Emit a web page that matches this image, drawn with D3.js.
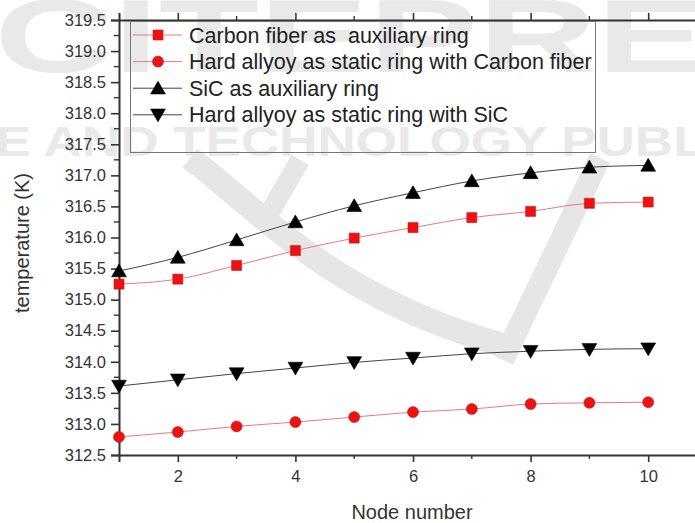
<!DOCTYPE html>
<html>
<head>
<meta charset="utf-8">
<script src="https://cdn.jsdelivr.net/npm/d3@7/dist/d3.min.js"></script>
<style>
  html, body { margin: 0; padding: 0; background: #fff; }
  svg { display: block; font-family: "Liberation Sans", Arial, sans-serif; }
</style>
</head>
<body>
<svg id="chart" width="695" height="523"></svg>
<script>
// Node positions along the ring
const nodes = [1, 2, 3, 4, 5, 6, 7, 8, 9, 10];

// Temperatures (K) at each node
const carbonAux      = [315.25, 315.33, 315.55, 315.79, 315.99, 316.16, 316.32, 316.42, 316.55, 316.57];
const hardWithCarbon = [312.79, 312.87, 312.96, 313.03, 313.11, 313.19, 313.24, 313.32, 313.34, 313.35];
const sicAux         = [315.46, 315.68, 315.96, 316.25, 316.51, 316.72, 316.91, 317.04, 317.13, 317.16];
const hardWithSic    = [313.61, 313.71, 313.81, 313.90, 313.99, 314.06, 314.13, 314.17, 314.20, 314.21];

const seriesNames = [
  "Carbon fiber as  auxiliary ring",
  "Hard allyoy as static ring with Carbon fiber",
  "SiC as auxiliary ring",
  "Hard allyoy as static ring with SiC"
];

const yTicks = [312.5, 313.0, 313.5, 314.0, 314.5, 315.0, 315.5, 316.0, 316.5, 317.0, 317.5, 318.0, 318.5, 319.0, 319.5];
const xTicks = [2, 4, 6, 8, 10];

const xTitle = "Node number";
const yTitle = "temperature (K)";

const watermarkTop = "SCITEPRESS";
const watermarkRow = "SCIENCE AND TECHNOLOGY PUBLICATIONS";

const svg = d3.select("#chart");
const plotLeft = 119, plotTop = 20, plotBottom = 455, plotRightEnd = 707;

const x = d3.scaleLinear().domain([1, 11]).range([plotLeft, plotRightEnd]);
const y = d3.scaleLinear().domain([312.5, 319.5]).range([plotBottom, plotTop]);

const axisColor = "#333";
const textColor = "#333";

// ---- faint publisher watermark behind everything ----
const wm = svg.append("g").attr("class", "watermark").attr("fill", "#e9e9e9");
wm.append("text")
  .attr("x", -115).attr("y", 72)
  .attr("font-size", 104).attr("font-weight", "bold")
  .attr("textLength", 1040).attr("lengthAdjust", "spacingAndGlyphs")
  .text(watermarkTop);
wm.append("text")
  .attr("x", -205).attr("y", 156)
  .attr("font-size", 42).attr("font-weight", "bold")
  .attr("textLength", 1160).attr("lengthAdjust", "spacingAndGlyphs")
  .text(watermarkRow);
const swoosh = wm.append("g").attr("fill", "none").attr("stroke", "#e6e6e6").attr("stroke-linecap", "butt");
swoosh.append("path").attr("d", "M190,158 C265,215 335,300 510,347").attr("stroke-width", 24);
swoosh.append("path").attr("d", "M300,160 L262,226").attr("stroke-width", 20);
swoosh.append("path").attr("d", "M600,158 L503,360").attr("stroke-width", 22);

// ---- axes ----
const yAxisMajor = d3.axisLeft(y).tickValues(yTicks).tickSize(8).tickPadding(5)
  .tickFormat(d3.format(".1f"));
const yMinor = d3.range(312.75, 319.5, 0.5);

const gy = svg.append("g").attr("transform", `translate(${plotLeft},0)`).call(yAxisMajor);
gy.select(".domain").attr("stroke", axisColor).attr("stroke-width", 2);
gy.selectAll(".tick line").attr("stroke", axisColor).attr("stroke-width", 1.6);
gy.selectAll(".tick text").attr("fill", textColor).attr("font-size", 16.5)
  .attr("font-family", "Liberation Sans, Arial, sans-serif");
svg.append("g").selectAll("line").data(yMinor).join("line")
  .attr("x1", plotLeft - 5).attr("x2", plotLeft)
  .attr("y1", d => y(d)).attr("y2", d => y(d))
  .attr("stroke", axisColor).attr("stroke-width", 1.4);

const xAxisMajor = d3.axisBottom(x).tickValues(xTicks).tickSize(7).tickPadding(8)
  .tickFormat(d3.format("d"));
const gx = svg.append("g").attr("transform", `translate(0,${plotBottom})`).call(xAxisMajor);
gx.select(".domain").attr("stroke", axisColor).attr("stroke-width", 2);
gx.selectAll(".tick line").attr("stroke", axisColor).attr("stroke-width", 1.6);
gx.selectAll(".tick text").attr("fill", textColor).attr("font-size", 16.5)
  .attr("font-family", "Liberation Sans, Arial, sans-serif");
const xMinor = [3, 5, 7, 9];
svg.append("g").selectAll("line").data(xMinor).join("line")
  .attr("x1", d => x(d)).attr("x2", d => x(d))
  .attr("y1", plotBottom).attr("y2", plotBottom + 4)
  .attr("stroke", axisColor).attr("stroke-width", 1.4);

// top frame with outward ticks
const xTopAxis = d3.axisTop(x).tickValues(xTicks).tickSize(7).tickFormat("");
const gt = svg.append("g").attr("transform", `translate(0,${plotTop})`).call(xTopAxis);
gt.select(".domain").attr("stroke", axisColor).attr("stroke-width", 2);
gt.selectAll(".tick line").attr("stroke", axisColor).attr("stroke-width", 1.6);
svg.append("g").selectAll("line").data(xMinor).join("line")
  .attr("x1", d => x(d)).attr("x2", d => x(d))
  .attr("y1", plotTop).attr("y2", plotTop - 4)
  .attr("stroke", axisColor).attr("stroke-width", 1.4);

// axis titles
svg.append("text")
  .attr("x", 412).attr("y", 519)
  .attr("text-anchor", "middle")
  .attr("font-size", 20).attr("fill", textColor)
  .text(xTitle);
svg.append("text")
  .attr("transform", `translate(29,243) rotate(-90)`)
  .attr("text-anchor", "middle")
  .attr("font-size", 20).attr("fill", textColor)
  .text(yTitle);

// ---- series ----
const redLine = "#ec7a7a", blackLine = "#444";
const red = "#ee1111", black = "#000";

const series = [
  { name: seriesNames[0], values: carbonAux,      line: redLine,   color: red,   shape: "square" },
  { name: seriesNames[1], values: hardWithCarbon, line: redLine,   color: red,   shape: "circle" },
  { name: seriesNames[2], values: sicAux,         line: blackLine, color: black, shape: "up" },
  { name: seriesNames[3], values: hardWithSic,    line: blackLine, color: black, shape: "down" }
];

const line = d3.line()
  .x((d, i) => x(nodes[i]))
  .y(d => y(d))
  .curve(d3.curveMonotoneX);

function markerPath(shape) {
  if (shape === "square") return d3.symbol(d3.symbolSquare, 100)();
  if (shape === "circle") return d3.symbol(d3.symbolCircle, 95)();
  return d3.symbol(d3.symbolTriangle, 95)();
}

function drawMarker(g, shape, color, cx, cy) {
  const p = g.append("path")
    .attr("d", markerPath(shape))
    .attr("fill", color)
    .attr("stroke", shape === "square" || shape === "circle" ? "#d01010" : "#000")
    .attr("stroke-width", 0.6);
  const rot = shape === "down" ? " rotate(180)" : "";
  const dy = shape === "up" ? 1.5 : (shape === "down" ? -1.5 : 0);
  p.attr("transform", `translate(${cx},${cy + dy})${rot}`);
}

const plot = svg.append("g");
series.forEach(s => {
  plot.append("path")
    .datum(s.values)
    .attr("d", line)
    .attr("fill", "none")
    .attr("stroke", s.line)
    .attr("stroke-width", 1);
  const mg = plot.append("g");
  s.values.forEach((v, i) => drawMarker(mg, s.shape, s.color, x(nodes[i]), y(v)));
});

// ---- legend ----
const lg = svg.append("g");
lg.append("rect")
  .attr("x", 130.5).attr("y", 21.5)
  .attr("width", 465).attr("height", 131)
  .attr("fill", "none").attr("stroke", "#777").attr("stroke-width", 1);
series.forEach((s, i) => {
  const cy = 35 + i * 26.6;
  lg.append("line")
    .attr("x1", 133).attr("x2", 182)
    .attr("y1", cy).attr("y2", cy)
    .attr("stroke", s.line).attr("stroke-width", 1);
  drawMarker(lg, s.shape, s.color, 158, cy);
  lg.append("text")
    .attr("x", 189).attr("y", cy + 7.6)
    .attr("font-size", 21.5).attr("fill", "#222")
    .style("white-space", "pre")
    .text(s.name);
});
</script>
</body>
</html>
